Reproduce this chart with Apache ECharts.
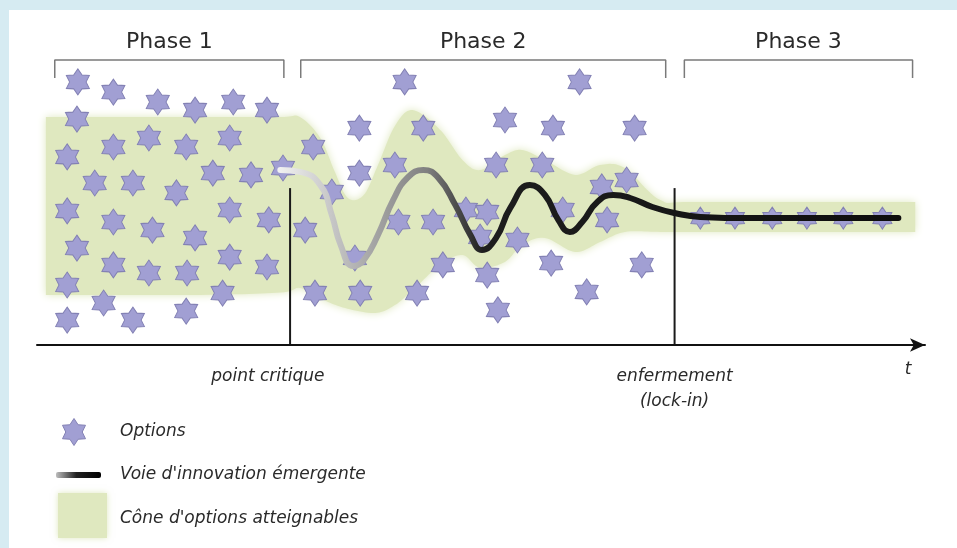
<!DOCTYPE html>
<html><head><meta charset="utf-8">
<script src="https://cdn.jsdelivr.net/npm/echarts@6/dist/echarts.min.js"></script>
<style>html,body{margin:0;padding:0;background:#d6ebf2;overflow:hidden}#c{width:957px;height:548px}</style>
</head><body><div id="c"></div>
<script>
// ---------- data (time t in 0..100, openness in arbitrary units) ----------
const phaseNames = ['Phase 1', 'Phase 2', 'Phase 3'];
const phaseStart = [2.0, 29.7, 72.9];
const phaseEnd = [27.8, 70.8, 98.6];

const eventNames = ['point critique', 'enfermement\n(lock-in)'];
const eventTimes = [28.5, 71.8];
const eventHeights = [52.3, 52.3];

const optionsPhase1 = [
  [4.6,87.7],[8.6,84.3],[13.6,81],[17.8,78.3],[22.1,81],[25.9,78.3],
  [4.5,75.3],[8.6,66],[12.6,69],[16.8,66],[21.7,69],
  [3.4,62.7],[6.5,54],[10.8,54],[15.7,50.7],[19.8,57.3],[24.1,56.7],[27.7,59],
  [3.4,44.7],[8.6,41],[13,38.3],[17.8,35.7],[21.7,45],[26.1,41.7],
  [4.5,32.3],[8.6,26.7],[12.6,24],[16.9,24],[21.7,29.3],[25.9,26],
  [3.4,20],[7.5,14],[20.9,17.3],[3.4,8.3],[10.8,8.3],[16.8,11.3]
];
const optionsPhase2 = [
  [41.4,87.7],[36.3,72.3],[43.5,72.3],[31.1,66],[36.3,57.3],[40.3,60],
  [33.2,51],[30.2,38.3],[40.7,41],[44.6,41],[35.8,29],[45.7,26.7],
  [31.3,17.3],[36.4,17.3],[42.8,17.3],[48.3,45],
  [61.1,87.7],[52.7,75],[58.1,72.3],[67.3,72.3],[51.7,60],[56.9,60],
  [50.7,44.3],[59.2,45],[54.1,35],[64.2,41.7],[63.6,52.7],[66.4,55],
  [50.7,23.3],[57.9,27.3],[68.1,26.7],[61.9,17.7],[51.9,11.7],[49.9,36]
];
const optionsPhase3 = [[74.7,42.3],[78.6,42.3],[82.8,42.3],[86.7,42.3],[90.8,42.3],[95.2,42.3]];

const pathT = [27.4,29.6,31.9,33.2,34.2,35.6,36.8,38.4,40.1,41.8,43.5,45.2,47.1,48.8,50.1,51.7,53.3,55.5,57.2,58.7,60,61.4,63.1,64.9,66.8,69.3,71.8,74.7,80.3,97];
const pathY = [58.3,57.7,53.3,43.3,33.3,26.3,28.3,36.7,48.3,56,58.3,55.7,46.7,36.7,31.7,35.7,45.7,53.3,50,41.7,37.7,41,47.7,50,49,46,44,42.7,42.3,42.3];

const coneHighT = [1.0, 18.4, 27.4, 29.6, 31.9, 33.5, 35.0, 36.8, 38.4, 40.3, 42.3, 45.4, 47.9, 49.9, 52.7, 54.6, 57.2, 60.6, 63.4, 66.2, 70.2, 74.7, 98.9];
const coneHigh  = [76,  76,   76,   76,   69,   58,   49,   50,   60,   73,   78.3, 71.7, 61.7, 58.3, 63.3, 65,   61.7, 56.7, 60,   59,   48.3, 47.7, 47.7];
const coneLowT  = [1.0, 18.4, 27.4, 29.6, 31.9, 34.7, 38.1, 40.3, 42.3, 45.4, 47.9, 49.9, 52.7, 54.6, 57.2, 60.6, 63.4, 66.2, 70.2, 74.7, 98.9];
const coneLow   = [16.7,16.7, 17.5, 19,   15.5, 12.3, 10.7, 13.3, 18.3, 26.7, 30,   25.7, 27.7, 33.3, 35.7, 31,   34.3, 37.7, 37.7, 37.7, 37.7];

const legendNames = ['Options', "Voie d'innovation émergente", "Cône d'options atteignables"];

// ---------- styles ----------
const FONT = 'DejaVu Sans';
const STAR_FILL = '#a19fd3';
const STAR_EDGE = '#8381b4';
const CONE = '#dfe8bf';
const INNER = 0.62;

function starPoints(cx, cy, w, h) {
  const pts = [];
  for (let k = 0; k < 12; k++) {
    const a = (-90 + 30 * k) * Math.PI / 180;
    const r = k % 2 ? INNER : 1;
    pts.push([cx + r * Math.cos(a) * w / 2 / Math.cos(Math.PI / 6), cy + r * Math.sin(a) * h / 2]);
  }
  return pts;
}
function starPath() {
  let s = '';
  for (let k = 0; k < 12; k++) {
    const a = (-90 + 30 * k) * Math.PI / 180;
    const r = k % 2 ? INNER : 1;
    const x = (r * Math.cos(a) * 50 + 50).toFixed(2);
    const y = (r * Math.sin(a) * 50 + 50).toFixed(2);
    s += (k ? 'L' : 'M') + x + ' ' + y + ' ';
  }
  return s + 'Z';
}
const STAR = starPath();

// Catmull-Rom sampling of pixel points (for smooth cone edges)
function spline(pts, steps) {
  const out = [];
  for (let i = 0; i < pts.length - 1; i++) {
    const p0 = pts[Math.max(i - 1, 0)], p1 = pts[i], p2 = pts[i + 1], p3 = pts[Math.min(i + 2, pts.length - 1)];
    for (let s = 0; s < steps; s++) {
      const t = s / steps, t2 = t * t, t3 = t2 * t;
      const f = (a, b, c, d) => 0.5 * ((2 * b) + (-a + c) * t + (2 * a - 5 * b + 4 * c - d) * t2 + (-a + 3 * b - 3 * c + d) * t3);
      out.push([f(p0[0], p1[0], p2[0], p3[0]), f(p0[1], p1[1], p2[1], p3[1])]);
    }
  }
  out.push(pts[pts.length - 1]);
  return out;
}

const chart = echarts.init(document.getElementById('c'));

const series = [];

// cone of attainable options (band between lower and upper edges)
series.push({
  type: 'custom', name: legendNames[2], silent: true, z: 1, clip: false,
  encode: { x: 0, y: 1 },
  data: coneHighT.map((t, i) => [t, coneHigh[i]]),
  renderItem: function (params, api) {
    if (params.dataIndex !== 0) return null;
    const up = coneHighT.map((t, i) => api.coord([t, coneHigh[i]]));
    const lo = coneLowT.map((t, i) => api.coord([t, coneLow[i]]));
    const pts = spline(up, 12).concat(spline(lo, 12).reverse());
    return {
      type: 'polygon',
      shape: { points: pts },
      style: { fill: CONE, shadowBlur: 9, shadowColor: CONE }
    };
  }
});

// phase brackets
phaseNames.forEach((p, i) => {
  series.push({
    type: 'line', symbol: 'none', silent: true, z: 3,
    lineStyle: { color: '#7a7a7a', width: 1.5 },
    data: [[phaseStart[i], 89], [phaseStart[i], 95], [phaseEnd[i], 95], [phaseEnd[i], 89]]
  });
});

// event vertical lines
eventTimes.forEach((t, i) => {
  series.push({
    type: 'line', symbol: 'none', silent: true, z: 3,
    lineStyle: { color: '#1a1a1a', width: 2 },
    data: [[t, 0], [t, eventHeights[i]]]
  });
});

// options (stars)
const starStyle = { color: STAR_FILL, borderColor: STAR_EDGE, borderWidth: 1, opacity: 1 };
series.push({
  type: 'scatter', name: legendNames[0], symbol: 'path://' + STAR, symbolSize: [23, 26], z: 4,
  itemStyle: starStyle, data: optionsPhase1.concat(optionsPhase2)
});
series.push({
  type: 'scatter', symbol: 'path://' + STAR, symbolSize: [19, 22], z: 4,
  itemStyle: starStyle, data: optionsPhase3
});

// emerging innovation path
series.push({
  type: 'line', name: legendNames[1], smooth: 0.5, symbol: 'none', z: 6,
  lineStyle: {
    width: 6, cap: 'round',
    color: new echarts.graphic.LinearGradient(0, 0, 1, 0, [
      { offset: 0, color: '#f2f2f2' },
      { offset: 0.07, color: '#cfcfcf' },
      { offset: 0.16, color: '#a2a2a2' },
      { offset: 0.24, color: '#808080' },
      { offset: 0.33, color: '#1e1e1e' },
      { offset: 1, color: '#0d0d0d' }
    ])
  },
  data: pathT.map((t, i) => [t, pathY[i]])
});

// text annotations
const labelBase = { show: true, position: 'inside', fontFamily: FONT, color: '#2a2a2a', formatter: '{b}' };
series.push({
  type: 'scatter', symbolSize: 0, silent: true, z: 7, itemStyle: { opacity: 1 },
  label: Object.assign({}, labelBase, { fontSize: 22 }),
  data: phaseNames.map((p, i) => ({ name: p, value: [(phaseStart[i] + phaseEnd[i]) / 2, 101] }))
});
series.push({
  type: 'scatter', symbolSize: 0, silent: true, z: 7, clip: false, itemStyle: { opacity: 1 },
  label: Object.assign({}, labelBase, { fontSize: 17, fontStyle: 'italic', lineHeight: 25, verticalAlign: 'top' }),
  data: [
    { name: eventNames[0], value: [eventTimes[0] - 2.5, -6.5] },
    { name: eventNames[1], value: [eventTimes[1], -6.2] },
    { name: 't', value: [98.1, -4] }
  ]
});

chart.setOption({
  animation: false,
  backgroundColor: '#d6ebf2',
  grid: { left: 37, right: 32, top: 15, height: 531 },
  xAxis: {
    type: 'value', min: 0, max: 100, z: 10,
    axisLine: { show: true, onZero: true, symbol: ['none', 'arrow'], symbolSize: [10, 15],
      lineStyle: { color: '#111', width: 2 } },
    axisTick: { show: false }, axisLabel: { show: false }, splitLine: { show: false }
  },
  yAxis: {
    type: 'value', min: -67, max: 110, show: false, splitLine: { show: false }
  },
  graphic: [
    { type: 'rect', z: -10, shape: { x: 9, y: 10, width: 948, height: 538 }, style: { fill: '#ffffff' } },
    // legend
    { type: 'polygon', z: 10, shape: { points: starPoints(74, 432, 23, 27) },
      style: { fill: STAR_FILL, stroke: STAR_EDGE, lineWidth: 1 } },
    { type: 'text', z: 10, x: 120, y: 432, style: { text: legendNames[0], fontFamily: FONT, fontSize: 17, fontStyle: 'italic', fill: '#2a2a2a', verticalAlign: 'middle' } },
    { type: 'rect', z: 10, shape: { x: 56, y: 472, width: 45, height: 6, r: 2 },
      style: { fill: new echarts.graphic.LinearGradient(0, 0, 1, 0, [{ offset: 0, color: '#bdbdbd' }, { offset: 0.45, color: '#222' }, { offset: 1, color: '#000' }]) } },
    { type: 'text', z: 10, x: 120, y: 475, style: { text: legendNames[1], fontFamily: FONT, fontSize: 17, fontStyle: 'italic', fill: '#2a2a2a', verticalAlign: 'middle' } },
    { type: 'rect', z: 10, shape: { x: 58, y: 493, width: 49, height: 45 },
      style: { fill: CONE, shadowBlur: 6, shadowColor: CONE } },
    { type: 'text', z: 10, x: 120, y: 519, style: { text: legendNames[2], fontFamily: FONT, fontSize: 17, fontStyle: 'italic', fill: '#2a2a2a', verticalAlign: 'middle' } }
  ],
  series: series
});
</script>
</body></html>
